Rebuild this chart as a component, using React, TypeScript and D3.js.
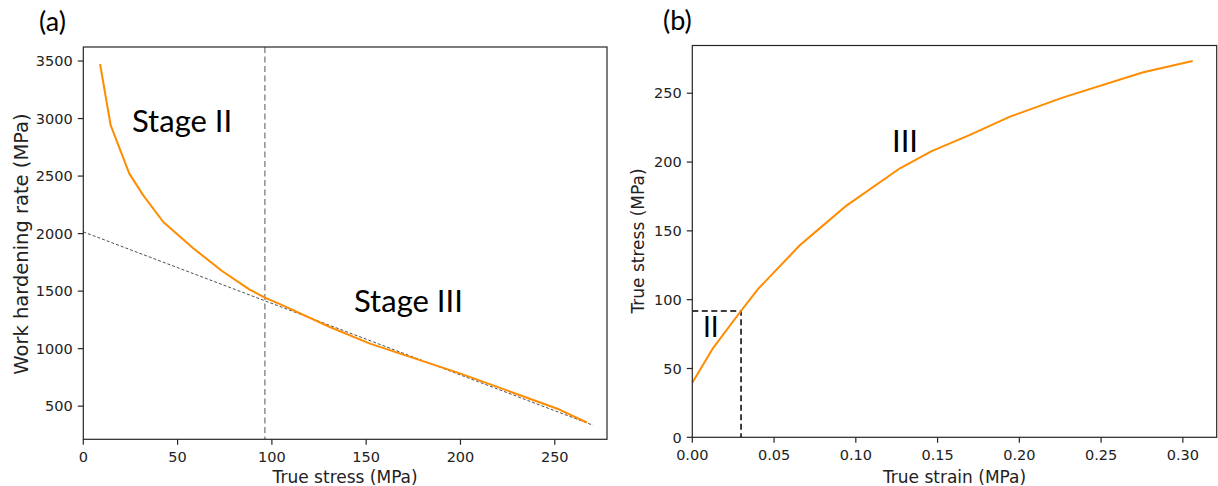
import React from "react";
import * as d3 from "d3";

// Panel (a): work hardening rate vs true stress
const stressA = [8.9, 14.5, 24.4, 31.8, 42.4, 58.3, 73.4, 88, 96.5, 104.3, 130.7, 152, 199.7, 251, 267];
const rateA = [3474, 2942, 2521, 2332, 2101, 1873, 1677, 1515, 1442, 1387, 1188, 1044, 785, 480, 358];
const fitX = [0, 270.3];
const fitY = [2015, 334];
const stageBoundary = 96.3;
const ticksAx = [0, 50, 100, 150, 200, 250];
const ticksAy = [500, 1000, 1500, 2000, 2500, 3000, 3500];

// Panel (b): true stress vs true strain
const strainB = [0, 0.0128, 0.0296, 0.0404, 0.0659, 0.0761, 0.0934, 0.127, 0.1464, 0.1698, 0.1943, 0.2269, 0.2758, 0.306];
const stressB = [39.7, 65, 91.6, 108, 139.7, 150, 167.6, 195.5, 208, 219.7, 233, 247, 265.3, 273.5];
const cornerStrain = 0.0298;
const cornerStress = 91.8;
const ticksBx = [0, 0.05, 0.1, 0.15, 0.2, 0.25, 0.3];
const ticksBy = [0, 50, 100, 150, 200, 250];

const ORANGE = "#ff8c00";
const SPINE = "#262626";
const TICK_FONT = "'DejaVu Sans', sans-serif";
const TEXT_FONT = "Lato, 'Open Sans', sans-serif";

type Scale = d3.ScaleLinear<number, number>;

function Frame({ x, y, tx, ty, fmtX, fmtY }: { x: Scale; y: Scale; tx: number[]; ty: number[]; fmtX: (v: number) => string; fmtY: (v: number) => string }) {
  const [x0, x1] = x.range();
  const [y0, y1] = y.range();
  return (
    <g>
      <rect x={x0} y={y1} width={x1 - x0} height={y0 - y1} fill="none" stroke={SPINE} strokeWidth={1.2} />
      {tx.map((t) => (
        <g key={"x" + t}>
          <line x1={x(t)} x2={x(t)} y1={y0} y2={y0 + 5.5} stroke={SPINE} strokeWidth={1.2} />
          <text x={x(t)} y={y0 + 22.4} textAnchor="middle" fontFamily={TICK_FONT} fontSize={14.5} fill="#222">
            {fmtX(t)}
          </text>
        </g>
      ))}
      {ty.map((t) => (
        <g key={"y" + t}>
          <line x1={x0 - 5.5} x2={x0} y1={y(t)} y2={y(t)} stroke={SPINE} strokeWidth={1.2} />
          <text x={x0 - 10.6} y={y(t) + 5.2} textAnchor="end" fontFamily={TICK_FONT} fontSize={14.5} fill="#222">
            {fmtY(t)}
          </text>
        </g>
      ))}
    </g>
  );
}

export default function App() {
  // Panel (a) scales
  const xA = d3.scaleLinear().domain([0, 277.7]).range([83.3, 607]);
  const yA = d3.scaleLinear().domain([212, 3622]).range([439.3, 47]);
  // Panel (b) scales
  const xB = d3.scaleLinear().domain([0, 0.3207]).range([692.3, 1216.7]);
  const yB = d3.scaleLinear().domain([0, 284.7]).range([437.3, 45.5]);

  const lineA = d3
    .line<number>()
    .x((_, i) => xA(stressA[i]))
    .y((d) => yA(d));
  const lineFit = d3
    .line<number>()
    .x((_, i) => xA(fitX[i]))
    .y((d) => yA(d));
  const lineB = d3
    .line<number>()
    .x((_, i) => xB(strainB[i]))
    .y((d) => yB(d));

  const fmtB = d3.format(".2f");

  return (
    <svg width={1218} height={486} style={{ position: "absolute", left: 0, top: 0, background: "#fff" }}>
      <rect width={1218} height={486} fill="#fff" />

      {/* Panel (a) */}
      <text x={39} y={31} fontFamily={TEXT_FONT} fontSize={27} fill="#000">(a)</text>
      <line x1={xA(stageBoundary)} x2={xA(stageBoundary)} y1={yA.range()[1]} y2={yA.range()[0]} stroke="#555" strokeWidth={1} strokeDasharray="6,3.5" />
      <path d={lineFit(fitY) || ""} fill="none" stroke="#222" strokeWidth={0.8} strokeDasharray="3,2" />
      <path d={lineA(rateA) || ""} fill="none" stroke={ORANGE} strokeWidth={2} strokeLinejoin="round" />
      <Frame x={xA} y={yA} tx={ticksAx} ty={ticksAy} fmtX={(v) => String(v)} fmtY={(v) => String(v)} />
      <text x={132} y={132.3} fontFamily={TEXT_FONT} fontSize={31} fill="#000">Stage II</text>
      <text x={354} y={311.7} fontFamily={TEXT_FONT} fontSize={31} fill="#000">Stage III</text>
      <text x={(83.3 + 607) / 2} y={482.8} textAnchor="middle" fontFamily={TICK_FONT} fontSize={17} fill="#222">True stress (MPa)</text>
      <text transform="translate(27.5,244) rotate(-90)" textAnchor="middle" fontFamily={TICK_FONT} fontSize={19.5} fill="#222">Work hardening rate (MPa)</text>

      {/* Panel (b) */}
      <text x={663} y={30} fontFamily={TEXT_FONT} fontSize={27} fill="#000">(b)</text>
      <path d={`M${xB(0)},${yB(cornerStress)}H${xB(cornerStrain)}V${yB(0)}`} fill="none" stroke="#000" strokeWidth={1.5} strokeDasharray="6,3.5" />
      <path d={lineB(stressB) || ""} fill="none" stroke={ORANGE} strokeWidth={2} strokeLinejoin="round" />
      <Frame x={xB} y={yB} tx={ticksBx} ty={ticksBy} fmtX={fmtB} fmtY={(v) => String(v)} />
      <text x={703} y={336.7} fontFamily={TEXT_FONT} fontSize={28} fill="#000">II</text>
      <text x={892} y={151.7} fontFamily={TEXT_FONT} fontSize={31} fill="#000">III</text>
      <text x={(692.3 + 1216.7) / 2} y={482.8} textAnchor="middle" fontFamily={TICK_FONT} fontSize={17} fill="#222">True strain (MPa)</text>
      <text transform="translate(644,241) rotate(-90)" textAnchor="middle" fontFamily={TICK_FONT} fontSize={17} fill="#222">True stress (MPa)</text>
    </svg>
  );
}
